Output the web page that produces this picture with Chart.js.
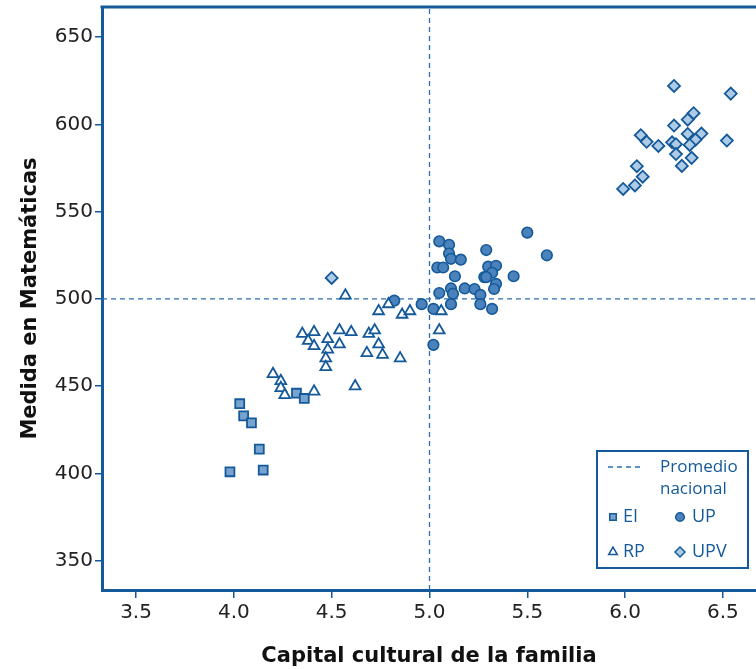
<!DOCTYPE html>
<html><head><meta charset="utf-8">
<script src="https://cdn.jsdelivr.net/npm/chart.js@4"></script>
<style>html,body{margin:0;padding:0;background:#fff}</style>
</head><body>
<canvas id="c" width="756" height="669"></canvas>
<script>
// ---- data ----
const categories = ['EI', 'UP', 'RP', 'UPV'];
const eiX = [4.03, 4.05, 4.09, 4.13, 3.98, 4.15, 4.32, 4.36];
const eiY = [440, 433, 429, 414, 401, 402, 446, 443];
const rpX = [4.57, 4.79, 4.74, 4.86, 4.90, 5.06, 5.05, 4.35, 4.41, 4.38, 4.41, 4.48, 4.54, 4.60, 4.54,
             4.48, 4.47, 4.47, 4.69, 4.72, 4.74, 4.68, 4.76, 4.85, 4.20, 4.24, 4.24, 4.26, 4.41, 4.62];
const rpY = [502, 497, 493, 491, 493, 493, 482, 480, 481, 476, 473, 477, 482, 481, 474,
             471, 466, 461, 480, 482, 474, 469, 468, 466, 457, 453, 449, 445, 447, 450];
const upX = [5.50, 5.60, 5.05, 5.10, 5.10, 5.11, 5.16, 5.29, 5.04, 5.07, 5.13, 5.30, 5.34, 5.32, 5.28, 5.29,
             5.43, 5.34, 5.33, 5.11, 5.12, 5.05, 5.18, 5.23, 5.26, 5.26, 5.11, 5.32, 4.96, 5.02, 5.02, 4.82];
const upY = [538, 525, 533, 531, 526, 523, 522.5, 528, 518, 518, 513, 518.5, 519, 515, 512.5, 512.5,
             513, 508.6, 505.7, 506, 503, 503.4, 506, 505.7, 502.3, 497, 497, 494.3, 497, 494.3, 473.7, 499];
const upvX = [6.25, 6.54, 6.35, 6.32, 6.25, 6.08, 6.11, 6.17, 6.24, 6.26, 6.32, 6.39, 6.36, 6.33, 6.52,
              6.26, 6.34, 6.29, 6.06, 6.09, 6.05, 5.99, 4.50];
const upvY = [622, 617.6, 606.4, 602.7, 599.3, 593.8, 590, 587.6, 589.7, 588.6, 594.5, 594.7, 591.2, 588.2, 590.7,
              583, 580.8, 576.2, 576, 570, 565, 563, 512];
const xTicks = [3.5, 4.0, 4.5, 5.0, 5.5, 6.0, 6.5];
const yTicks = [350, 400, 450, 500, 550, 600, 650];
const avgX = 5.0;       // promedio nacional (capital cultural)
const avgY = 500;       // promedio nacional (matemáticas)
const xRange = [3.326, 6.669];
const yRange = [333.3, 667.2];
const legendLabels = ['Promedio', 'nacional'];

// ---- styles ----
const BLUE = '#14599a';
const DASH = '#2a6fb3';
const zip = (xs, ys) => xs.map((x, i) => ({x, y: ys[i]}));

const datasets = [
  {label: 'avgV', type: 'line', data: [{x: avgX, y: yRange[0]}, {x: avgX, y: yRange[1]}],
   borderColor: DASH, borderWidth: 1.3, borderDash: [5, 4], pointRadius: 0, order: 10},
  {label: 'avgH', type: 'line', data: [{x: xRange[0], y: avgY}, {x: xRange[1], y: avgY}],
   borderColor: DASH, borderWidth: 1.3, borderDash: [5, 4], pointRadius: 0, order: 10},
  {label: categories[0], data: zip(eiX, eiY), pointStyle: 'rect', pointRadius: 6.3,
   backgroundColor: '#77a3cf', borderColor: BLUE, borderWidth: 1.8, order: 4},
  {label: categories[1], data: zip(upX, upY), pointStyle: 'circle', pointRadius: 5.3,
   backgroundColor: '#4b82bc', borderColor: BLUE, borderWidth: 1.6, order: 3},
  {label: categories[2], data: zip(rpX, rpY), pointStyle: 'triangle', pointRadius: 6.2,
   backgroundColor: '#ffffff', borderColor: BLUE, borderWidth: 1.8, order: 2},
  {label: categories[3], data: zip(upvX, upvY), pointStyle: 'rectRot', pointRadius: 6,
   backgroundColor: '#aecbe6', borderColor: BLUE, borderWidth: 1.8, order: 1}
];

const noPad = s => { s.paddingTop = 0; s.paddingBottom = 0; s.paddingLeft = 0; s.paddingRight = 0; };

const framePlugin = {
  id: 'frame',
  afterDraw(chart) {
    const {ctx, chartArea: a} = chart;
    ctx.save();
    ctx.strokeStyle = BLUE; ctx.lineWidth = 3;
    ctx.beginPath(); ctx.moveTo(a.left - 1.5, a.top); ctx.lineTo(a.right, a.top); ctx.stroke();
    // legend box
    const bx = a.right - 159, by = a.bottom - 139, bw = 151, bh = 117;
    ctx.fillStyle = '#fff'; ctx.fillRect(bx, by, bw, bh);
    ctx.lineWidth = 2; ctx.strokeRect(bx, by, bw, bh);
    ctx.strokeStyle = DASH; ctx.lineWidth = 1.3; ctx.setLineDash([5, 4]);
    ctx.beginPath(); ctx.moveTo(bx + 11, by + 16); ctx.lineTo(bx + 47, by + 16); ctx.stroke();
    ctx.setLineDash([]);
    ctx.fillStyle = BLUE; ctx.textBaseline = 'middle'; ctx.textAlign = 'left';
    ctx.font = '17px "Open Sans"';
    ctx.fillText(legendLabels[0], bx + 63, by + 16);
    ctx.fillText(legendLabels[1], bx + 63, by + 38);
    ctx.font = '18px "Open Sans"';
    const items = [
      {ds: 2, mx: bx + 16, my: by + 66, tx: bx + 26, r: 4.6},
      {ds: 3, mx: bx + 83, my: by + 66, tx: bx + 95, r: 4.3},
      {ds: 4, mx: bx + 16, my: by + 101, tx: bx + 26, r: 5},
      {ds: 5, mx: bx + 83, my: by + 101, tx: bx + 95, r: 5}
    ];
    items.forEach(it => {
      const d = chart.data.datasets[it.ds];
      ctx.fillStyle = d.backgroundColor; ctx.strokeStyle = d.borderColor; ctx.lineWidth = 1.5;
      Chart.helpers.drawPoint(ctx, {pointStyle: d.pointStyle, radius: it.r, borderWidth: 1.5}, it.mx, it.my);
      ctx.fillStyle = BLUE;
      ctx.fillText(d.label, it.tx, it.my);
    });
    ctx.restore();
  }
};

new Chart(document.getElementById('c'), {
  type: 'scatter',
  data: {datasets},
  plugins: [framePlugin],
  options: {
    responsive: false, animation: false,
    layout: {autoPadding: false, padding: {top: 7, right: 0, left: 0, bottom: 0}},
    plugins: {legend: {display: false}, tooltip: {enabled: false}},
    scales: {
      x: {
        type: 'linear', min: xRange[0], max: xRange[1],
        afterBuildTicks: s => { s.ticks = xTicks.map(v => ({value: v})); },
        afterFit: s => { s.height = 79; noPad(s); },
        ticks: {font: {family: 'DejaVu Sans', size: 20}, color: '#222', padding: 3,
                maxRotation: 0, autoSkip: false, callback: v => Number(v).toFixed(1)},
        grid: {drawOnChartArea: false, drawTicks: true, tickLength: 8, color: BLUE, lineWidth: 1.5},
        border: {display: true, color: BLUE, width: 3},
        title: {display: true, text: 'Capital cultural de la familia', color: '#111',
                font: {family: 'DejaVu Sans', size: 21, weight: 'bold'}, padding: {top: 10, bottom: 0}}
      },
      y: {
        type: 'linear', min: yRange[0], max: yRange[1],
        afterBuildTicks: s => { s.ticks = yTicks.map(v => ({value: v})); },
        afterFit: s => { s.width = 102; noPad(s); },
        ticks: {font: {family: 'DejaVu Sans', size: 20}, color: '#222', padding: 2, autoSkip: false},
        grid: {drawOnChartArea: false, drawTicks: true, tickLength: 7, color: BLUE, lineWidth: 1.5},
        border: {display: true, color: BLUE, width: 3},
        title: {display: true, text: 'Medida en Matemáticas', color: '#111',
                font: {family: 'DejaVu Sans', size: 21, weight: 'bold'}, padding: {top: 18, bottom: 0}}
      }
    }
  }
});
</script>
</body></html>
